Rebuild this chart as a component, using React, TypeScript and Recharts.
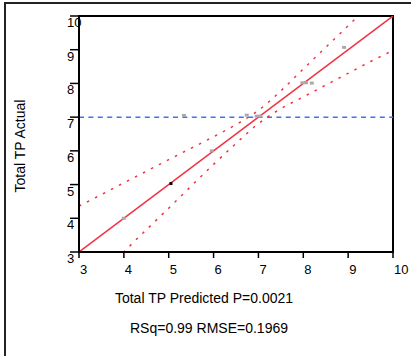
import {
  ComposedChart,
  Line,
  Scatter,
  XAxis,
  YAxis,
  ReferenceLine,
  ReferenceArea,
} from 'recharts'

const ticks = [3, 4, 5, 6, 7, 8, 9, 10]

// gray observation points (predicted, actual)
const grayPoints = [
  { x: 4.0, y: 4.0 },
  { x: 5.34, y: 7.05 },
  { x: 5.96, y: 6.0 },
  { x: 6.74, y: 7.06 },
  { x: 6.96, y: 7.03 },
  { x: 7.04, y: 7.03 },
  { x: 7.98, y: 8.02 },
  { x: 8.06, y: 8.02 },
  { x: 8.19, y: 8.01 },
  { x: 8.91, y: 9.07 },
]
const blackPoints = [{ x: 5.05, y: 5.03 }]

const fitLine = [
  { x: 3, y: 3 },
  { x: 10, y: 10 },
]

// dotted confidence curves
const upperCurve = [
  { x: 3, y: 4.36 },
  { x: 4, y: 5.05 },
  { x: 5, y: 5.74 },
  { x: 6, y: 6.42 },
  { x: 6.5, y: 6.78 },
  { x: 7, y: 7.2 },
  { x: 7.5, y: 7.78 },
  { x: 8, y: 8.43 },
  { x: 8.5, y: 9.07 },
  { x: 9, y: 9.71 },
  { x: 9.5, y: 10.36 },
  { x: 10, y: 11.0 },
]
const lowerCurve = [
  { x: 3, y: 1.65 },
  { x: 3.5, y: 2.3 },
  { x: 4, y: 3.0 },
  { x: 5, y: 4.3 },
  { x: 6, y: 5.6 },
  { x: 6.5, y: 6.22 },
  { x: 7, y: 6.81 },
  { x: 7.5, y: 7.25 },
  { x: 8, y: 7.6 },
  { x: 8.5, y: 7.95 },
  { x: 9, y: 8.3 },
  { x: 9.5, y: 8.65 },
  { x: 10, y: 8.98 },
]

const meanY = 7

const FONT = '"Liberation Sans", Arial, sans-serif'
const RED = '#ee3344'

const YTick = (props: any) => {
  const { x, y, payload } = props
  return (
    <text x={x - 3} y={y + 11} textAnchor="start" fontSize={13} fill="#000" fontFamily={FONT}>
      {payload.value}
    </text>
  )
}

const XTick = (props: any) => {
  const { x, y, payload } = props
  return (
    <text x={x + 1} y={y + 16} textAnchor="start" fontSize={13} fill="#000" fontFamily={FONT}>
      {payload.value}
    </text>
  )
}

const graySquare = (p: any) => (
  <rect x={p.cx - 2} y={p.cy - 1.5} width={4} height={3} fill="#aaaaaa" />
)
const blackSquare = (p: any) => (
  <rect x={p.cx - 1.5} y={p.cy - 1.5} width={3} height={3} fill="#000" />
)

export default function App() {
  return (
    <div
      style={{
        position: 'absolute',
        left: 0,
        top: 0,
        width: 411,
        height: 356,
        overflow: 'hidden',
        background: '#fff',
        fontFamily: FONT,
      }}
    >
      <div
        style={{
          position: 'absolute',
          left: 4,
          top: 2,
          width: 440,
          height: 352,
          borderLeft: '2px solid #222',
          borderTop: '2px solid #222',
          borderBottom: '1px solid #999',
        }}
      />
      <div style={{ position: 'absolute', left: 0, top: 0 }}>
        <ComposedChart width={411} height={356} margin={{ top: 16, right: 18, left: 0, bottom: 74 }}>
          <XAxis
            type="number"
            dataKey="x"
            domain={[3, 10]}
            ticks={ticks}
            allowDataOverflow
            height={30}
            tickSize={6}
            tickMargin={0}
            axisLine={{ stroke: '#000', strokeWidth: 2 }}
            tickLine={{ stroke: '#000', strokeWidth: 1.5 }}
            tick={<XTick />}
            interval={0}
          />
          <YAxis
            type="number"
            dataKey="y"
            domain={[3, 10]}
            ticks={ticks}
            allowDataOverflow
            width={79}
            tickSize={9}
            tickMargin={0}
            axisLine={{ stroke: '#000', strokeWidth: 2 }}
            tickLine={{ stroke: '#000', strokeWidth: 1.5 }}
            tick={<YTick />}
            interval={0}
          />
          <ReferenceArea x1={3} x2={10} y1={3} y2={10} fill="none" stroke="#000" strokeWidth={2} fillOpacity={0} />
          <ReferenceLine y={meanY} stroke="#4070f5" strokeWidth={1.5} strokeDasharray="5 4.4" />
          <Line
            data={upperCurve}
            dataKey="y"
            type="monotone"
            stroke={RED}
            strokeWidth={1.5}
            strokeDasharray="2.5 6.5"
            dot={false}
            isAnimationActive={false}
          />
          <Line
            data={lowerCurve}
            dataKey="y"
            type="monotone"
            stroke={RED}
            strokeWidth={1.5}
            strokeDasharray="2.5 6.5"
            dot={false}
            isAnimationActive={false}
          />
          <Line
            data={fitLine}
            dataKey="y"
            type="linear"
            stroke={RED}
            strokeWidth={1.5}
            dot={false}
            isAnimationActive={false}
          />
          <Scatter data={grayPoints} dataKey="y" shape={graySquare} isAnimationActive={false} />
          <Scatter data={blackPoints} dataKey="y" shape={blackSquare} isAnimationActive={false} />
        </ComposedChart>
      </div>
      <div
        style={{
          position: 'absolute',
          left: 20 - 100,
          top: 146 - 9,
          width: 200,
          height: 18,
          lineHeight: '18px',
          textAlign: 'center',
          fontSize: 14,
          transform: 'rotate(-90deg)',
        }}
      >
        Total TP Actual
      </div>
      <div
        style={{
          position: 'absolute',
          left: 0,
          top: 289,
          width: 408,
          lineHeight: '18px',
          textAlign: 'center',
          fontSize: 14,
        }}
      >
        Total TP Predicted P=0.0021
      </div>
      <div
        style={{
          position: 'absolute',
          left: 0,
          top: 319,
          width: 418,
          lineHeight: '18px',
          textAlign: 'center',
          fontSize: 14,
        }}
      >
        RSq=0.99 RMSE=0.1969
      </div>
    </div>
  )
}
